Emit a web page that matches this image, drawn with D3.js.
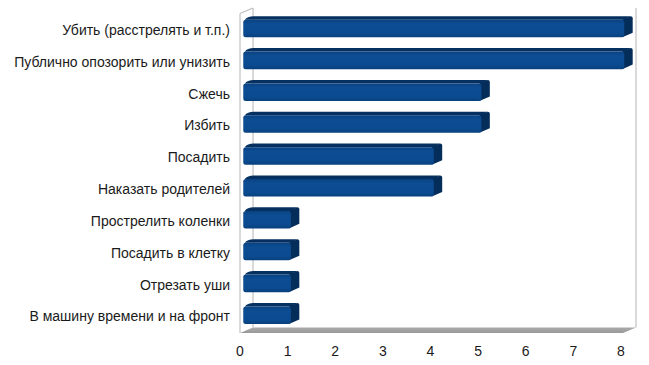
<!DOCTYPE html>
<html>
<head>
<meta charset="utf-8">
<script src="https://cdn.jsdelivr.net/npm/d3@7"></script>
<style>
  body { margin: 0; background: #fff; }
  text { font-family: "Liberation Sans", Arial, sans-serif; }
</style>
</head>
<body>
<div id="chart"></div>
<script>
// data
var categories = [
    "Убить (расстрелять и т.п.)",
    "Публично опозорить или унизить",
    "Сжечь",
    "Избить",
    "Посадить",
    "Наказать родителей",
    "Прострелить коленки",
    "Посадить в клетку",
    "Отрезать уши",
    "В машину времени и на фронт"
]
var values = [8, 8, 5, 5, 4, 4, 1, 1, 1, 1]
var ticks = [0, 1, 2, 3, 4, 5, 6, 7, 8]

var width = 649, height = 365
var depthX = 13, depthY = -5.5   // 3d wall offset

var svg = d3.select("#chart").append("svg")
    .attr("width", width)
    .attr("height", height)

var x = d3.scaleLinear().domain([0, 8]).range([240, 621])
var y = d3.scaleBand().domain(categories).range([13.5, 333]).paddingInner(0.45).paddingOuter(0.24)

var defs = svg.append("defs")
var fg = defs.append("linearGradient").attr("id", "floorGrad")
    .attr("x1", 0).attr("y1", 0).attr("x2", 0).attr("y2", 1)
fg.append("stop").attr("offset", "0%").attr("stop-color", "#a9a9a9")
fg.append("stop").attr("offset", "100%").attr("stop-color", "#9a9a9a")

var bg = defs.append("linearGradient").attr("id", "barGrad")
    .attr("x1", 0).attr("y1", 0).attr("x2", 0).attr("y2", 1)
bg.append("stop").attr("offset", "0%").attr("stop-color", "#0a4283")
bg.append("stop").attr("offset", "25%").attr("stop-color", "#0c4d93")
bg.append("stop").attr("offset", "80%").attr("stop-color", "#0b4a8f")
bg.append("stop").attr("offset", "100%").attr("stop-color", "#083f7c")

var x0 = x(0), x1 = x(8)
var yTop = y.range()[0], yBot = y.range()[1]

// floor
svg.append("path")
    .attr("d", "M" + x0 + "," + yBot + " L" + (x0 + depthX) + "," + (yBot + depthY) +
        " L" + (x1 + 2 + depthX) + "," + (yBot + depthY) + " L" + (x1 + 2) + "," + yBot + "Z")
    .attr("fill", "url(#floorGrad)")

// walls
var wall = svg.append("g").attr("fill", "none").attr("stroke", "#b4b4b4").attr("stroke-width", 1)
wall.append("path")
    .attr("d", "M" + x0 + "," + yBot + " L" + x0 + "," + yTop + " L" + (x0 + depthX) + "," + (yTop + depthY) +
        " L" + (x0 + depthX) + "," + (yBot + depthY))
wall.append("line")
    .attr("x1", x1 + 2 + depthX).attr("x2", x1 + 2 + depthX)
    .attr("y1", yTop + depthY).attr("y2", yBot + depthY)

// bars
var f0 = 0.25, f1 = 0.9
var bars = svg.selectAll(".bar")
    .data(values)
    .enter().append("g")
    .attr("class", "bar")

bars.each(function(d, i) {
    var g = d3.select(this)
    var bx0 = x(0) + depthX * f0, bx1 = x(d) + depthX * f0
    var by0 = y(categories[i]) + depthY * f0, by1 = by0 + y.bandwidth()
    var ddx = depthX * (f1 - f0), ddy = depthY * (f1 - f0)
    // top
    g.append("path")
        .attr("d", "M" + (bx0 + 1.5) + "," + by0 + " Q" + (bx0 + 1.5 + ddx * 0.3) + "," + (by0 + ddy) + " " + (bx0 + 2 + ddx) + "," + (by0 + ddy) +
            " L" + (bx1 + ddx - 2) + "," + (by0 + ddy) + " L" + bx1 + "," + by0 + "Z")
        .attr("fill", "#06305f")
    // side
    g.append("path")
        .attr("d", "M" + (bx1 - 2) + "," + by0 + " L" + (bx1 + ddx - 2) + "," + (by0 + ddy) +
            " Q" + (bx1 + ddx) + "," + (by0 + ddy) + " " + (bx1 + ddx) + "," + (by0 + ddy + 2) +
            " L" + (bx1 + ddx) + "," + (by1 + ddy - 1) + " L" + (bx1 - 2) + "," + by1 + "Z")
        .attr("fill", "#052d5a")
    // front
    g.append("rect")
        .attr("x", bx0).attr("y", by0)
        .attr("width", bx1 - bx0).attr("height", by1 - by0)
        .attr("rx", 2.5)
        .attr("fill", "url(#barGrad)")
})

// category labels
svg.selectAll(".cat")
    .data(categories)
    .enter().append("text")
    .attr("class", "cat")
    .attr("x", 230)
    .attr("y", function(d) { return y(d) + y.bandwidth() / 2 })
    .attr("dy", "0.35em")
    .attr("text-anchor", "end")
    .attr("font-size", "14px")
    .attr("fill", "#1a1a1a")
    .text(function(d) { return d })

// x ticks
svg.selectAll(".tick")
    .data(ticks)
    .enter().append("text")
    .attr("class", "tick")
    .attr("x", function(d) { return x(d) })
    .attr("y", 356)
    .attr("text-anchor", "middle")
    .attr("font-size", "14px")
    .attr("fill", "#1a1a1a")
    .text(function(d) { return d })
</script>
</body>
</html>
